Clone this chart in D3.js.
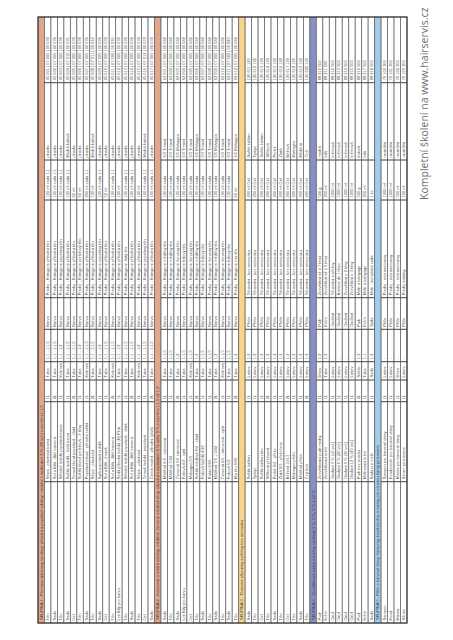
<!DOCTYPE html>
<html>
<head>
<meta charset="utf-8">
<script src="https://cdn.jsdelivr.net/npm/d3@7"></script>
<style>
html,body{margin:0;padding:0;background:#fff;}
svg{display:block;}
</style>
</head>
<body>
<svg id="chart" width="453" height="640"></svg>
<script>
// ---------- DATA ----------
const columnNames = ["Typ","Popis","Obj.","Balení","Poměr","Kategorie","Použití","Objem","Odstín","Kód"];

const sectionTitles = [
  "SKUPINA 1 - Permanentní barvy na vlasy: přírodní a popelavé odstíny, míchání s oxidantem 6 % (20 vol.) v poměru 1:1,5",
  "SKUPINA 2 - Intenzivní a módní odstíny: měděné, červené a fialové tóny, míchání s oxidantem 6 % nebo 9 % v poměru 1:1,5 až 1:2",
  "SKUPINA 3 - Tónovací přípravky a přelivy bez amoniaku",
  "SKUPINA 4 - Zesvětlovací pudry a krémy, oxidanty 3 %, 6 %, 9 % a 12 %",
  "SKUPINA 5 - Péče o barvené vlasy: šampony, kondicionéry a masky pro ochranu barvy po barvení"
];

const rows1 = [
  ["Tón","Sépie - plastická barva","1L","Tuba","1:1 - 1:1,5","Barva","Prodej - Kategorie přírodní tón","100 ml sada 1:1","jahoda","45 001 | 07 000 | 00 030"],
  ["Sada","Sol a Bílá - Bílé barvení","2L","Tuba","1:1 - 1:1,5","Barva","Prodej - Kategorie přírodní tón","100 ml sada 1:1","jahoda","45 002 | 07 000 | 00 030"],
  ["Tón","Středně hnědá popelavá barva","1L","Kelímek","1:1 - 1:2","Barva","Prodej - Kategorie popelavý tón","100 ml sada 1:1","jahoda","45 003 | 07 000 | 00 030"],
  ["Sada","Světle hnědá - čistá barva","1L","Tuba","1:1 - 1:1,5","Barva","Prodej - Kategorie přírodní tón","100 ml sada 1:1","Modrá fialová","45 004 | 07 010 | 00 031"],
  ["Gel","Tmavá blond popelavá - zlatá","2L","Tuba","1:1 - 1:1,5","Barva","Prodej - Kategorie přírodní tón","60 ml","jahoda","45 005 | 07 000 | 00 030"],
  ["Tón","Světlá blond perleťová - 3 tóny","1L","Tuba","1:1 - 1:2","Barva","Prodej - Kategorie perleťový tón","60 ml","jahoda","45 006 | 07 000 | 00 030"],
  ["Sada","Popelavá blond - přírodní světlá","1L","Kelímek","1:1 - 1:1,5","Barva","Prodej - Kategorie přírodní tón","200 ml sada 1:1","jahoda","45 007 | 07 000 | 00 030"],
  ["Tón","Sépie - plastická","2L","Tuba","1:1 - 1:1,5","Barva","Prodej - Kategorie přírodní tón","100 ml","Modrá fialová","45 008 | 07 011 | 00 032"],
  ["Sada","Sytá popelavá hnědá","1L","Tuba","1:1 - 1:2","Barva","Prodej - Kategorie popelavý tón","100 ml sada 1:1","jahoda","45 009 | 07 000 | 00 030"],
  ["Gel","Sol a Bílá - tmavá","1L","Tuba","1:1 - 1:1,5","Barva","Prodej - Kategorie přírodní tón","50 ml","jahoda","45 010 | 07 000 | 00 030"],
  ["Tón","Sol a Bílá - Bílé barvení","2L","Kelímek","1:1 - 1:1,5","Barva","Prodej - Kategorie přírodní tón","100 ml sada 1:1","jahoda","45 011 | 07 000 | 00 030"],
  ["Lze Bílý pro barvu","Šedá přírodní hnědá (N) Plná","1L","Tuba","1:1 - 1:2","Barva","Prodej - Kategorie přírodní tón","100 ml","jahoda","45 012 | 07 000 | 00 030"],
  ["Tón","Středně hnědá popelavá - zlatá","1L","Tuba","1:1 - 1:1,5","Barva","Prodej - Kategorie zlatý tón","100 ml sada 1:1","jahoda","45 013 | 07 000 | 00 030"],
  ["Sada","Sol a Bílá - Bílé barvení","2L","Tuba","1:1 - 1:1,5","Barva","Prodej - Kategorie přírodní tón","100 ml sada 1:1","jahoda","45 014 | 07 000 | 00 030"],
  ["Tón","Sépie - plastická","1L","Kelímek","1:1 - 1:2","Barva","Prodej - Kategorie přírodní tón","100 ml","jahoda","45 015 | 07 000 | 00 030"],
  ["Gel","Tmavě hnědá - popelavá","1L","Tuba","1:1 - 1:1,5","Barva","Prodej - Kategorie popelavý tón","100 ml sada 1:1","Modrá fialová","45 016 | 07 012 | 00 033"],
  ["Sada","Černá modrá - přírodní (plná)","2L","Tuba","1:1 - 1:1,5","Barva","Prodej - Kategorie přírodní tón","100 ml sada 1:1","jahoda","45 017 | 07 000 | 00 030"]
];

const rows2 = [
  ["Sada","Měděná 6/4 - intenzivní","1L","Tuba","1:1,5","Barva","Prodej - Kategorie měděný tón","100 ml sada","6/3 Tmavá","62 001 | 07 000 | 00 040"],
  ["Tón","Měděná 7/44","1L","Tuba","1:1,5","Barva","Prodej - Kategorie měděný tón","100 ml sada","6/3 Tmavá","62 002 | 07 000 | 00 040"],
  ["Sada","Červená 5/6 intenzivní","2L","Tuba","1:2","Barva","Prodej - Kategorie červený tón","100 ml sada","6/5 Mahagon","62 003 | 07 000 | 00 040"],
  ["Lze Bílý pro barvu","Fialová 4/2 - sytá","1L","Tuba","1:1,5","Barva","Prodej - Kategorie fialový tón","100 ml sada","6/3 Tmavá","62 004 | 07 000 | 00 040"],
  ["Gel","Mahagon 5/5","1L","Kelímek","1:1,5","Barva","Prodej - Kategorie červený tón","100 ml sada","6/3 Tmavá","62 005 | 07 000 | 00 040"],
  ["Tón","Světlá měděná 8/4 - zlatá","2L","Tuba","1:2","Barva","Prodej - Kategorie měděný tón","100 ml sada","6/5 Mahagon","62 006 | 07 000 | 00 040"],
  ["Sada","Fialová hnědá 4/20","1L","Tuba","1:1,5","Barva","Prodej - Kategorie fialový tón","100 ml sada","6/3 Tmavá","62 007 | 07 000 | 00 040"],
  ["Tón","Rubín 6/66","1L","Tuba","1:1,5","Barva","Prodej - Kategorie červený tón","100 ml sada","6/3 Tmavá","62 008 | 07 000 | 00 040"],
  ["Sada","Měděná 7/4 + 0/44","2L","Tuba","1:2","Barva","Prodej - Kategorie měděný tón","100 ml sada","6/5 Mahagon","62 009 | 07 000 | 00 040"],
  ["Tón","Červená 6/6 - intenzivní - sytá","1L","Kelímek","1:1,5","Barva","Prodej - Kategorie červený tón","100 ml sada","6/3 Tmavá","62 010 | 07 000 | 00 040"],
  ["Sada","Fialová 5/2","1L","Tuba","1:1,5","Barva","Prodej - Kategorie fialový tón","100 ml sada","6/3 Tmavá","62 011 | 07 000 | 00 040"],
  ["Tón","Mix tón 0/66","2L","Tuba","1:2","Barva","Prodej - Kategorie mix tón","60 ml","6/5 Mahagon","62 012 | 07 000 | 00 040"]
];

const rows3 = [
  ["Sada","Světle kaštan","1L","Lahev","1:2","Přeliv","Tónování - bez amoniaku","200 ml Gel","Světle kaštan","120 611 120"],
  ["Tón","Tyrkys","1L","Lahev","1:2","Přeliv","Tónování - bez amoniaku","200 ml Gel","Tyrkys","120 612 120"],
  ["Gel","Světle kaštan tón","1L","Lahev","1:2","Přeliv","Tónování - bez amoniaku","200 ml Gel","Světle kaštan","120 613 120"],
  ["Tón","Stříbrná přelivová","2L","Lahev","1:2","Přeliv","Tónování - bez amoniaku","200 ml Gel","Stříbrná","120 614 120"],
  ["Sada","Perleť 9/2 - přeliv","1L","Lahev","1:2","Přeliv","Tónování - bez amoniaku","200 ml Gel","Perleť","120 615 120"],
  ["Tón","Zlatá 9/3 - přeliv lesk","1L","Lahev","1:2","Přeliv","Tónování - bez amoniaku","200 ml Gel","Zlatá","120 616 120"],
  ["Gel","Béžová 10/13","2L","Lahev","1:2","Přeliv","Tónování - bez amoniaku","200 ml Gel","Béžová","120 617 120"],
  ["Tón","Mahagon přeliv","1L","Lahev","1:2","Přeliv","Tónování - bez amoniaku","200 ml Gel","Mahagon","120 618 120"],
  ["Sada","Měděná přeliv","1L","Lahev","1:2","Přeliv","Tónování - bez amoniaku","200 ml Gel","Měděná","120 619 120"],
  ["Tón","Čirý lesk","2L","Lahev","1:2","Přeliv","Tónování - bez amoniaku","200 ml Gel","Čirá","120 620 120"]
];

const rows4 = [
  ["Pudr","Zesvětlovací pudr modrý","1L","Dóza","1:2","Pudr","Zesvětlení až o 7 tónů","500 g","modrá","88 210 500"],
  ["Krém","Zesvětlovací krém","1L","Tuba","1:2","Krém","Zesvětlení až o 5 tónů","250 ml","bílá","88 211 500"],
  ["Oxid","Oxidant 3 % (10 vol.)","1L","Lahev","-","Oxidant","Tónování a přelivy","1000 ml","krémová","88 212 500"],
  ["Oxid","Oxidant 6 % (20 vol.)","1L","Lahev","-","Oxidant","Barvení do 1 tónu","1000 ml","krémová","88 213 500"],
  ["Oxid","Oxidant 9 % (30 vol.)","1L","Lahev","-","Oxidant","Zesvětlení o 2 tóny","1000 ml","krémová","88 214 500"],
  ["Oxid","Oxidant 12 % (40 vol.)","1L","Lahev","-","Oxidant","Zesvětlení o 3 tóny","1000 ml","krémová","88 215 500"],
  ["Pudr","Pudr bez prachu","2L","Sáček","1:2","Pudr","Melír a balayage","500 g","fialová","88 216 500"],
  ["Krém","Melírovací krém","1L","Tuba","1:1","Krém","Melír a balayage","250 ml","bílá","88 217 500"],
  ["Sada","Sada pro melír","1L","Sada","1:2","Sada","Melír - kompletní sada","1 ks","-","88 218 500"]
];

const rows5 = [
  ["Šampon","Šampon pro barvené vlasy","1L","Lahev","-","Péče","Prodej - ochrana barvy","1000 ml","neutrální","76 100 300"],
  ["Kond.","Kondicionér pro barvené vlasy","1L","Lahev","-","Péče","Prodej - ochrana barvy","1000 ml","neutrální","76 101 300"],
  ["Maska","Maska pro barvené vlasy","1L","Dóza","-","Péče","Prodej - ochrana barvy","500 ml","neutrální","76 102 300"],
  ["Sérum","Sérum po barvení","1L","Lahev","-","Péče","Prodej katalog","100 ml","neutrální","76 103 300"]
];

const footerText = "Kompletní školení na www.hairservis.cz";

// ---------- STYLE / LAYOUT ----------
const sectionColors = ["#e2a68b", "#e2a68b", "#f7d58c", "#8690c5", "#a3cbeb"];
const sections = [rows1, rows2, rows3, rows4, rows5];

const tableRows = [];
sections.forEach((rows, si) => {
  tableRows.push({header: true, section: si, text: sectionTitles[si]});
  rows.forEach(r => tableRows.push({header: false, section: si, cells: r}));
});

const svg = d3.select("#chart");

const tableLeft = 38, tableRight = 407, tableTop = 17, tableBottom = 623;
const L = tableBottom - tableTop;

const colEdges = [0, 141.3, 221.3, 243, 261.3, 293.7, 325.3, 423, 463, 540.3, L];
const colScale = d3.scaleOrdinal().domain(d3.range(10)).range(colEdges.slice(0, 10));

const rowScale = d3.scaleBand()
  .domain(d3.range(tableRows.length))
  .range([0, tableRight - tableLeft]);

const g = svg.append("g")
  .attr("transform", `translate(${tableLeft},${tableBottom}) rotate(-90)`);

const fontFam = "'Liberation Sans Narrow','Liberation Sans',Arial,sans-serif";
const fs = 4.0;
const txtCol = "#505050";

const rowG = g.selectAll("g.row").data(tableRows).join("g")
  .attr("class", "row")
  .attr("transform", (d, i) => `translate(0,${rowScale(i)})`);

rowG.append("rect")
  .attr("x", 0).attr("y", 0)
  .attr("width", L).attr("height", rowScale.bandwidth())
  .attr("fill", d => d.header ? sectionColors[d.section] : "#ffffff")
  .attr("stroke", "#6a6a6a").attr("stroke-width", 0.8);

rowG.filter(d => d.header).append("text")
  .attr("x", 3).attr("y", rowScale.bandwidth() / 2)
  .attr("dy", "0.35em")
  .attr("font-family", fontFam).attr("font-size", fs)
  .attr("fill", "#3a3a3a")
  .text(d => d.text);

const dataRows = rowG.filter(d => !d.header);
dataRows.selectAll("line.col").data(colEdges.slice(1, 10)).join("line")
  .attr("class", "col")
  .attr("x1", d => d).attr("x2", d => d)
  .attr("y1", 0).attr("y2", rowScale.bandwidth())
  .attr("stroke", "#2e2e2e").attr("stroke-width", 0.9);

dataRows.selectAll("text.cell").data(d => d.cells.map((c, j) => ({c, j}))).join("text")
  .attr("class", "cell")
  .attr("x", d => colScale(d.j) + 2.5)
  .attr("y", rowScale.bandwidth() / 2)
  .attr("dy", "0.35em")
  .attr("font-family", fontFam).attr("font-size", fs)
  .attr("fill", txtCol)
  .text(d => d.c);

g.append("rect")
  .attr("x", 0).attr("y", 0)
  .attr("width", L).attr("height", tableRight - tableLeft)
  .attr("fill", "none").attr("stroke", "#333").attr("stroke-width", 1.1);

svg.append("text")
  .attr("transform", `translate(428,200) rotate(-90)`)
  .attr("font-family", "'Open Sans','Liberation Sans',sans-serif")
  .attr("font-size", 10.5)
  .attr("fill", "#6e6e6e")
  .text(footerText);
</script>
</body>
</html>
